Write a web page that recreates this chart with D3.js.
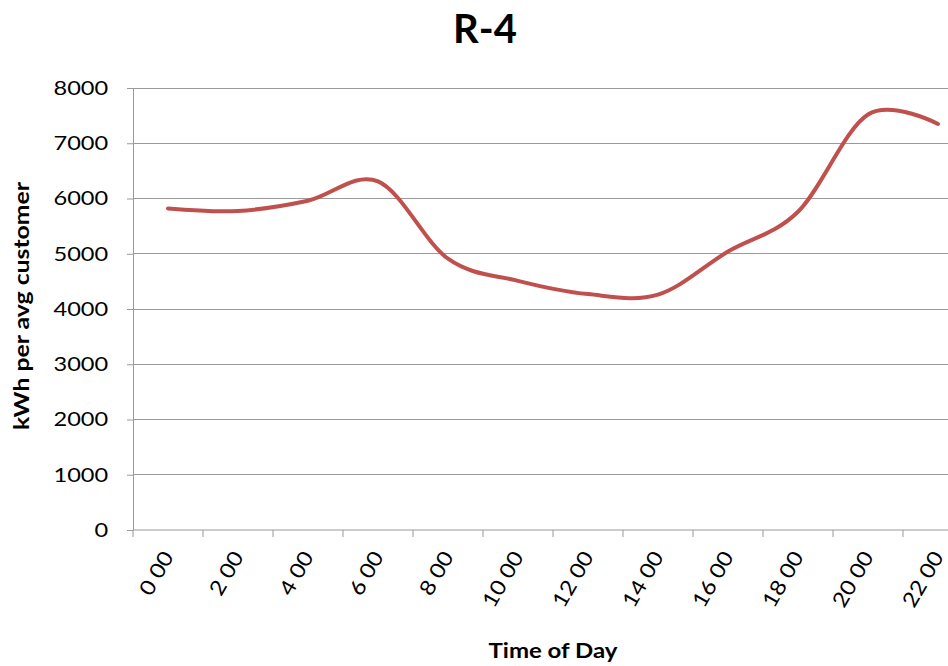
<!DOCTYPE html>
<html><head><meta charset="utf-8">
<script src="https://cdn.jsdelivr.net/npm/d3@7"></script>
<style>body{margin:0;background:#fff}svg{display:block}text{font-family:Lato,"Open Sans",sans-serif;fill:#000}</style>
</head><body>
<svg id="c" width="948" height="666"></svg>
<script>
const categories = ["0 00","2 00","4 00","6 00","8 00","10 00","12 00","14 00","16 00","18 00","20 00","22 00"];
const values = [5820, 5775, 5960, 6310, 4910, 4510, 4270, 4260, 5040, 5760, 7520, 7350];
const yTicks = [0,1000,2000,3000,4000,5000,6000,7000,8000];

const svg = d3.select("#c");
const x = d3.scaleBand().domain(categories).range([133, 973]).padding(0);
const y = d3.scaleLinear().domain([0, 8000]).range([530, 88]);
const grid = "#9a9a9a";

// gridlines
svg.append("g").selectAll("line").data(yTicks.filter(d=>d>0)).join("line")
  .attr("x1",133).attr("x2",973).attr("y1",d=>y(d)).attr("y2",d=>y(d))
  .attr("stroke",grid).attr("stroke-width",1).attr("shape-rendering","crispEdges");

// y axis
const ya = svg.append("g").attr("transform","translate(133,0)")
  .call(d3.axisLeft(y).tickValues(yTicks).tickSize(6).tickPadding(18).tickFormat(d3.format("d")));
ya.select(".domain").attr("stroke",grid);
ya.selectAll(".tick line").attr("stroke",grid);
ya.selectAll(".tick text").attr("font-size",20).attr("font-family","Lato").attr("fill","#000")
  .attr("transform","scale(1.18,1)").attr("x",-21);

// x axis
const xa = svg.append("g").attr("transform","translate(0,530)");
xa.append("line").attr("x1",133).attr("x2",973).attr("y1",0).attr("y2",0).attr("stroke",grid);
const bounds = categories.map(c=>x(c)).concat([973]);
xa.selectAll("line.t").data(bounds).join("line").attr("class","t")
  .attr("x1",d=>d).attr("x2",d=>d).attr("y1",0).attr("y2",7).attr("stroke",grid);
xa.selectAll("text").data(categories).join("text")
  .attr("transform",d=>`translate(${x(d)+x.bandwidth()/2},${23}) rotate(-60) scale(1.12,1)`)
  .attr("text-anchor","end").attr("font-size",21).attr("dy","0.35em").text(d=>d);

// line
const line = d3.line().x((d,i)=>x(categories[i])+x.bandwidth()/2).y(d=>y(d)).curve(d3.curveCatmullRom.alpha(0));
svg.append("path").datum(values).attr("d",line).attr("fill","none")
  .attr("stroke","#C0504D").attr("stroke-width",4).attr("stroke-linecap","round");

// titles
svg.append("text").attr("x",485).attr("y",43).attr("text-anchor","middle")
  .attr("font-size",40).attr("font-weight","bold").text("R-4");
svg.append("text").attr("transform","translate(553,658) scale(1.2,1)").attr("text-anchor","middle")
  .attr("font-size",20).attr("font-weight","bold").text("Time of Day");
svg.append("text").attr("transform","translate(29,306) rotate(-90) scale(1.24,1)").attr("text-anchor","middle")
  .attr("font-size",20).attr("font-weight","bold").text("kWh per avg customer");
</script>
</body></html>
